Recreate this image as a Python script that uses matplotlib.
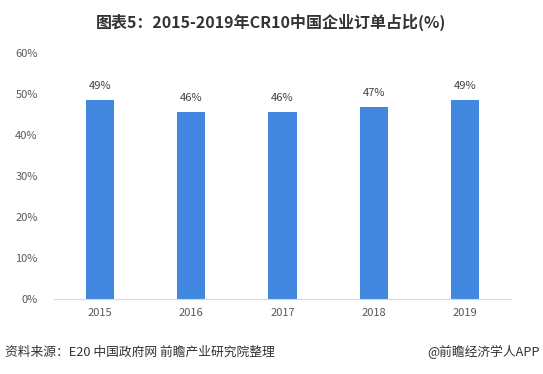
import matplotlib
matplotlib.use('Agg')
import matplotlib.pyplot as plt

plt.rcParams['font.family'] = ['Noto Sans CJK SC', 'DejaVu Sans']

# Data
years = ['2015', '2016', '2017', '2018', '2019']
shares = [48.6, 45.7, 45.7, 46.7, 48.6]
yticks = [0, 10, 20, 30, 40, 50, 60]

fig = plt.figure(figsize=(5.43, 3.74), dpi=100)
ax = fig.add_axes([0.1002, 0.2013, 0.8401, 0.657])

x = range(len(years))
bars = ax.bar(x, shares, width=0.307, color='#4287E0', zorder=2)
for xi, v in zip(x, shares):
    ax.text(xi, v + 2.2, f'{v:.0f}%', ha='center', va='bottom', fontsize=8, color='#404040')

ax.set_xlim(-0.5, len(years) - 0.5)
ax.set_ylim(0, 60)
ax.set_yticks(yticks)
ax.set_yticklabels([f'{t}%' for t in yticks], fontsize=8, color='#595959')
ax.set_xticks(list(x))
ax.set_xticklabels(years, fontsize=8, color='#595959')
ax.tick_params(length=0, pad=7)
ax.tick_params(axis='y', pad=12)
for s in ['top', 'right', 'left']:
    ax.spines[s].set_visible(False)
ax.spines['bottom'].set_color('#D9D9D9')

fig.text(0.5, 0.94, '图表5：2015-2019年CR10中国企业订单占比(%)', ha='center', va='center',
         fontsize=11.5, fontweight='bold', color='#333333')
fig.text(0.01, 0.058, '资料来源：E20 中国政府网 前瞻产业研究院整理', ha='left', va='center',
         fontsize=9.2, color='#333333')
fig.text(0.995, 0.058, '@前瞻经济学人APP', ha='right', va='center',
         fontsize=9.2, color='#333333')

fig.savefig('out.png', dpi=100)
